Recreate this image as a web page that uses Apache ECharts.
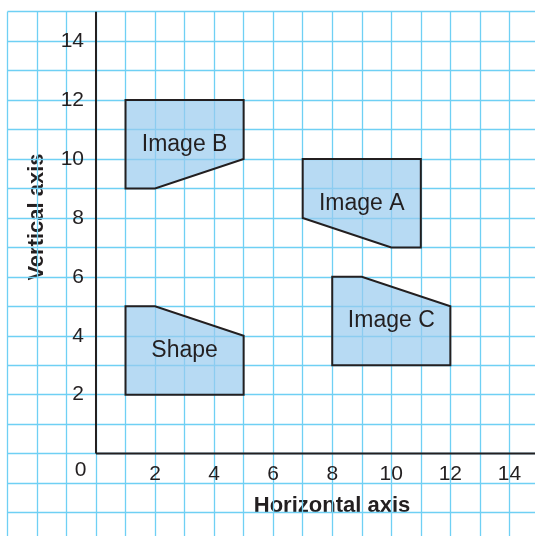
<!DOCTYPE html>
<html><head><meta charset="utf-8">
<script src="https://cdn.jsdelivr.net/npm/echarts@6/dist/echarts.min.js"></script>
<style>html,body{margin:0;padding:0;background:#fff}#c{width:535px;height:536px}</style>
</head><body><div id="c"></div>
<script>
// ---- data ----
const xTicks = [2, 4, 6, 8, 10, 12, 14];
const yTicks = [2, 4, 6, 8, 10, 12, 14];
const xExtent = [-3, 15];
const yExtent = [-3, 15];
const shapePts  = [[1, 2], [1, 5], [2, 5], [5, 4], [5, 2]];
const imageAPts = [[7, 8], [7, 10], [11, 10], [11, 7], [10, 7]];
const imageBPts = [[1, 9], [1, 12], [5, 12], [5, 10], [2, 9]];
const imageCPts = [[8, 3], [8, 6], [9, 6], [12, 5], [12, 3]];
const shapeNames = ['Shape', 'Image A', 'Image B', 'Image C'];
const horizAxisLine = [[0, 0], [15, 0]];
const vertAxisLine = [[0, 0], [0, 15]];
const originLabel = '0';
const xAxisTitle = 'Horizontal axis';
const yAxisTitle = 'Vertical axis';

// ---- style ----
const FONT = '"Liberation Sans", Arial, Helvetica, sans-serif';
const INK = '#231f20';
const GRIDC = '#6fd0f4';
const FILL = 'rgba(152,202,238,0.7)';

function polygonSeries(name, pts) {
  return {
    type: 'custom', name: name, coordinateSystem: 'cartesian2d',
    data: [pts[0]], silent: true, z: 3,
    renderItem: function (params, api) {
      const points = pts.map(p => api.coord(p));
      const xs = pts.map(p => p[0]), ys = pts.map(p => p[1]);
      const c = api.coord([(Math.min(...xs) + Math.max(...xs)) / 2,
                           (Math.min(...ys) + Math.max(...ys)) / 2]);
      return {
        type: 'group', children: [
          { type: 'polygon', shape: { points: points },
            style: { fill: FILL, stroke: INK, lineWidth: 2, lineJoin: 'miter' } },
          { type: 'text', x: c[0], y: c[1],
            style: { text: name, font: '23px ' + FONT, fill: INK,
                     align: 'center', verticalAlign: 'middle' } }
        ]
      };
    }
  };
}

const chart = echarts.init(document.getElementById('c'), null, { renderer: 'canvas' });
chart.setOption({
  animation: false,
  backgroundColor: '#fff',
  grid: { left: 7.4, top: 11.7, width: 18 * 29.53, height: 18 * 29.46,
          containLabel: false, outerBoundsMode: 'none' },
  xAxis: {
    type: 'value', min: xExtent[0], max: xExtent[1], interval: 1,
    axisLine: { show: false }, axisTick: { show: false }, axisLabel: { show: false },
    splitLine: { show: true, showMinLine: true, showMaxLine: true, lineStyle: { color: GRIDC, width: 1.3 } }
  },
  yAxis: {
    type: 'value', min: yExtent[0], max: yExtent[1], interval: 1,
    axisLine: { show: false }, axisTick: { show: false }, axisLabel: { show: false },
    splitLine: { show: true, showMinLine: true, showMaxLine: true, lineStyle: { color: GRIDC, width: 1.3 } }
  },
  graphic: [
    { type: 'text', x: 332, y: 506, silent: true,
      style: { text: xAxisTitle, font: 'bold 22px ' + FONT, fill: INK, align: 'center', verticalAlign: 'middle' } },
    { type: 'text', x: 37, y: 217, rotation: Math.PI / 2, silent: true,
      style: { text: yAxisTitle, font: 'bold 22px ' + FONT, fill: INK, align: 'center', verticalAlign: 'middle' } }
  ],
  series: [
    polygonSeries(shapeNames[0], shapePts),
    polygonSeries(shapeNames[1], imageAPts),
    polygonSeries(shapeNames[2], imageBPts),
    polygonSeries(shapeNames[3], imageCPts),
    { type: 'line', data: horizAxisLine, symbol: 'none', silent: true, z: 4,
      lineStyle: { color: INK, width: 2 } },
    { type: 'line', data: vertAxisLine, symbol: 'none', silent: true, z: 4,
      lineStyle: { color: INK, width: 2 } },
    // x tick labels
    { type: 'custom', coordinateSystem: 'cartesian2d', data: xTicks.map(v => [v, 0]), silent: true, z: 5,
      renderItem: function (params, api) {
        const p = api.coord([api.value(0), api.value(1)]);
        return { type: 'text', x: p[0], y: p[1] + 20.5,
                 style: { text: String(api.value(0)), font: '21px ' + FONT, fill: INK,
                          align: 'center', verticalAlign: 'middle' } };
      } },
    // y tick labels
    { type: 'custom', coordinateSystem: 'cartesian2d', data: yTicks.map(v => [0, v]), silent: true, z: 5,
      renderItem: function (params, api) {
        const p = api.coord([api.value(0), api.value(1)]);
        return { type: 'text', x: p[0] - 12, y: p[1],
                 style: { text: String(api.value(1)), font: '21px ' + FONT, fill: INK,
                          align: 'right', verticalAlign: 'middle' } };
      } },
    // origin label
    { type: 'custom', coordinateSystem: 'cartesian2d', data: [[0, 0]], silent: true, z: 5,
      renderItem: function (params, api) {
        const p = api.coord([api.value(0), api.value(1)]);
        return { type: 'text', x: p[0] - 15.5, y: p[1] + 17,
                 style: { text: originLabel, font: '21px ' + FONT, fill: INK,
                          align: 'center', verticalAlign: 'middle' } };
      } }
  ]
});
</script>
</body></html>
